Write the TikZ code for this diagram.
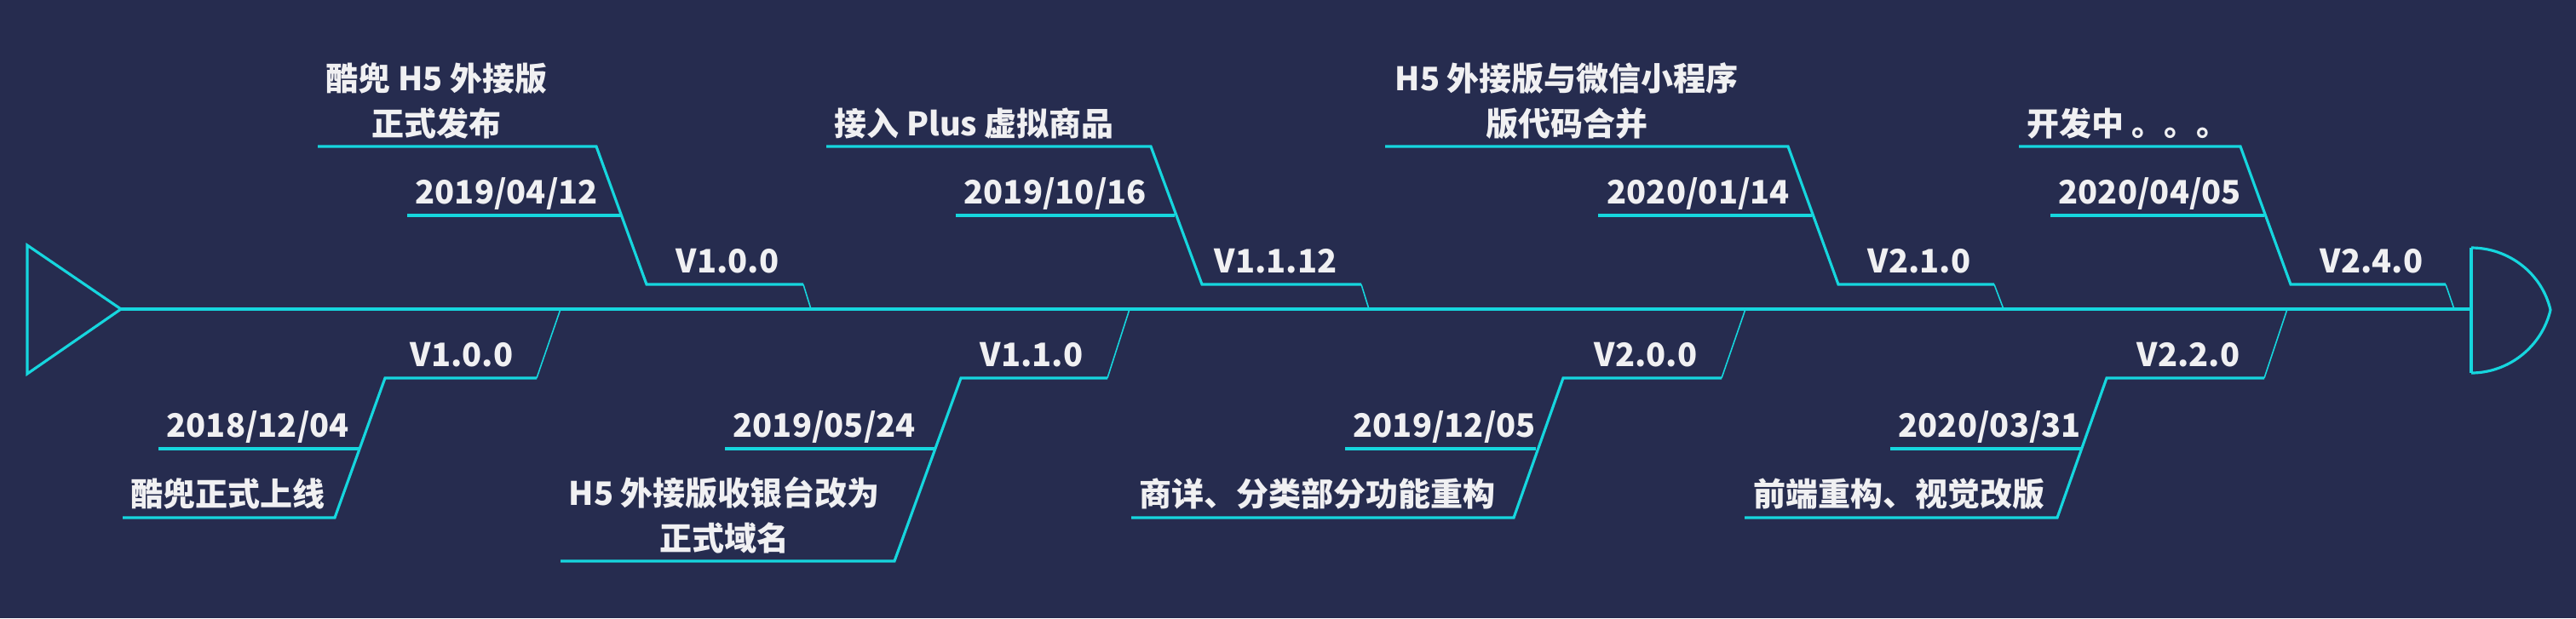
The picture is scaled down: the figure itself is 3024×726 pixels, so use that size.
\documentclass[tikz,border=0pt]{standalone}
\usepackage{fontspec}
\setmainfont{Noto Sans CJK SC}
\usepackage{tikz}

\begin{document}
\begin{tikzpicture}[x=0.01cm,y=-0.01cm,
  bone/.style={draw=fcyan,line width=0.9pt,line join=miter},
  twig/.style={draw=fcyan,line width=0.45pt},
  lbl/.style={inner sep=0pt,text=ftext,font=\fontsize{10.8}{15}\selectfont\bfseries}]
\definecolor{fbg}{RGB}{38,44,79}
\definecolor{fcyan}{RGB}{22,214,222}
\definecolor{ftext}{RGB}{240,240,242}
\fill[fbg] (0,0) rectangle (3024,726);
\useasboundingbox (0,0) rectangle (3024,726);
% spine, tail and head
\coordinate (tail) at (142,363);
\coordinate (head) at (2901,363);
\coordinate (tl1) at (32,288);
\coordinate (tl2) at (32,439);
\coordinate (hd1) at (2901,291);
\coordinate (hd2) at (2901,438);
\coordinate (hdp) at (2994,364);
\draw[bone,line width=1pt] (tail) -- (head);
\draw[bone] (tl1) -- (tail) -- (tl2) -- cycle;
\draw[bone] (hd1) -- (hd2);
\draw[bone] (hd1) .. controls (2945,291) and (2984,321) .. (hdp) .. controls (2984,407) and (2945,438) .. (hd2);
% upper 1
\coordinate (u1a) at (373,172);
\coordinate (u1b) at (700,172);
\coordinate (u1c) at (729,253);
\coordinate (u1g) at (478,253);
\coordinate (u1d) at (759,334);
\coordinate (u1e) at (943,334);
\coordinate (u1f) at (952,363);
\draw[bone] (u1a) -- (u1b) -- (u1d) -- (u1e);
\draw[bone] (u1g) -- (u1c);
\draw[twig] (u1e) -- (u1f);
\node[lbl,anchor=base west,align=center] (u1desc) at (382,159) {酷兜 H5 外接版\\正式发布};
\node[lbl,anchor=base west] (u1date) at (487,239) {2019/04/12};
\node[lbl,anchor=base east] (u1ver) at (915,320) {V1.0.0};
% lower 1
\coordinate (l1f) at (658,363);
\coordinate (l1e) at (630,444);
\coordinate (l1d) at (452,444);
\coordinate (l1c) at (421,527);
\coordinate (l1g) at (186,527);
\coordinate (l1b) at (393,608);
\coordinate (l1a) at (144,608);
\draw[bone] (l1e) -- (l1d) -- (l1b) -- (l1a);
\draw[bone] (l1g) -- (l1c);
\draw[twig] (l1f) -- (l1e);
\node[lbl,anchor=base east] (l1ver) at (603,430) {V1.0.0};
\node[lbl,anchor=base west] (l1date) at (195,513) {2018/12/04};
\node[lbl,anchor=base west] (l1desc) at (153,594) {酷兜正式上线};
% upper 2
\coordinate (u2a) at (970,172);
\coordinate (u2b) at (1351,172);
\coordinate (u2c) at (1379,253);
\coordinate (u2g) at (1122,253);
\coordinate (u2d) at (1411,334);
\coordinate (u2e) at (1598,334);
\coordinate (u2f) at (1607,363);
\draw[bone] (u2a) -- (u2b) -- (u2d) -- (u2e);
\draw[bone] (u2g) -- (u2c);
\draw[twig] (u2e) -- (u2f);
\node[lbl,anchor=base west] (u2desc) at (979,159) {接入 Plus 虚拟商品};
\node[lbl,anchor=base west] (u2date) at (1131,239) {2019/10/16};
\node[lbl,anchor=base east] (u2ver) at (1570,320) {V1.1.12};
% lower 2
\coordinate (l2f) at (1326,363);
\coordinate (l2e) at (1300,444);
\coordinate (l2d) at (1128,444);
\coordinate (l2c) at (1098,527);
\coordinate (l2g) at (851,527);
\coordinate (l2b) at (1050,659);
\coordinate (l2a) at (658,659);
\draw[bone] (l2e) -- (l2d) -- (l2b) -- (l2a);
\draw[bone] (l2g) -- (l2c);
\draw[twig] (l2f) -- (l2e);
\node[lbl,anchor=base east] (l2ver) at (1272,430) {V1.1.0};
\node[lbl,anchor=base west] (l2date) at (860,513) {2019/05/24};
\node[lbl,anchor=base west,align=center] (l2desc) at (667,646) {H5 外接版收银台改为\\正式域名};
% upper 3
\coordinate (u3a) at (1626,172);
\coordinate (u3b) at (2099,172);
\coordinate (u3c) at (2127,253);
\coordinate (u3g) at (1876,253);
\coordinate (u3d) at (2158,334);
\coordinate (u3e) at (2341,334);
\coordinate (u3f) at (2352,363);
\draw[bone] (u3a) -- (u3b) -- (u3d) -- (u3e);
\draw[bone] (u3g) -- (u3c);
\draw[twig] (u3e) -- (u3f);
\node[lbl,anchor=base west,align=center] (u3desc) at (1637,159) {H5 外接版与微信小程序\\版代码合并};
\node[lbl,anchor=base west] (u3date) at (1886,239) {2020/01/14};
\node[lbl,anchor=base east] (u3ver) at (2314,320) {V2.1.0};
% lower 3
\coordinate (l3f) at (2049,363);
\coordinate (l3e) at (2021,444);
\coordinate (l3d) at (1835,444);
\coordinate (l3c) at (1803,527);
\coordinate (l3g) at (1579,527);
\coordinate (l3b) at (1777,608);
\coordinate (l3a) at (1328,608);
\draw[bone] (l3e) -- (l3d) -- (l3b) -- (l3a);
\draw[bone] (l3g) -- (l3c);
\draw[twig] (l3f) -- (l3e);
\node[lbl,anchor=base east] (l3ver) at (1993,430) {V2.0.0};
\node[lbl,anchor=base west] (l3date) at (1588,513) {2019/12/05};
\node[lbl,anchor=base west] (l3desc) at (1337,594) {商详、分类部分功能重构};
% upper 4
\coordinate (u4a) at (2370,172);
\coordinate (u4b) at (2630,172);
\coordinate (u4c) at (2658,253);
\coordinate (u4g) at (2407,253);
\coordinate (u4d) at (2689,334);
\coordinate (u4e) at (2871,334);
\coordinate (u4f) at (2881,363);
\draw[bone] (u4a) -- (u4b) -- (u4d) -- (u4e);
\draw[bone] (u4g) -- (u4c);
\draw[twig] (u4e) -- (u4f);
\node[lbl,anchor=base west] (u4desc) at (2379,159) {开发中 。。。};
\node[lbl,anchor=base west] (u4date) at (2416,239) {2020/04/05};
\node[lbl,anchor=base east] (u4ver) at (2845,320) {V2.4.0};
% lower 4
\coordinate (l4f) at (2685,363);
\coordinate (l4e) at (2658,444);
\coordinate (l4d) at (2473,444);
\coordinate (l4c) at (2443,527);
\coordinate (l4g) at (2219,527);
\coordinate (l4b) at (2415,608);
\coordinate (l4a) at (2048,608);
\draw[bone] (l4e) -- (l4d) -- (l4b) -- (l4a);
\draw[bone] (l4g) -- (l4c);
\draw[twig] (l4f) -- (l4e);
\node[lbl,anchor=base east] (l4ver) at (2630,430) {V2.2.0};
\node[lbl,anchor=base west] (l4date) at (2228,513) {2020/03/31};
\node[lbl,anchor=base west] (l4desc) at (2058,594) {前端重构、视觉改版};
\end{tikzpicture}
\end{document}
